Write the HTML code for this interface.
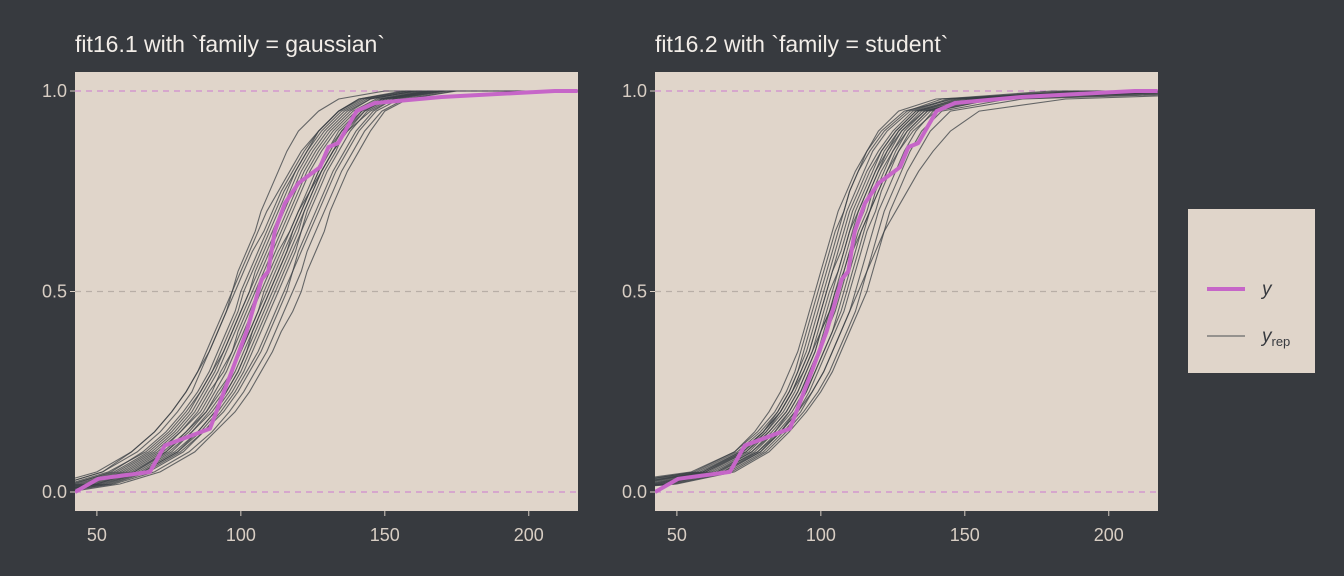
<!DOCTYPE html>
<html><head><meta charset="utf-8">
<style>
html,body{margin:0;padding:0;background:#373a3f;}
svg{display:block;font-family:"Liberation Sans",Arial,sans-serif;}
</style></head>
<body>
<svg id="chart" width="1344" height="576" viewBox="0 0 1344 576" xmlns="http://www.w3.org/2000/svg">
<rect x="0" y="0" width="1344" height="576" fill="#373a3f"/>
<defs>
<clipPath id="c1"><rect x="75" y="72" width="503" height="439"/></clipPath>
<clipPath id="c2"><rect x="655" y="72" width="503" height="439"/></clipPath>
</defs>
<g id="legend">
<rect x="1188" y="209" width="127" height="164" fill="#e0d5ca"/>
<line x1="1207" y1="289" x2="1245" y2="289" stroke="#c666c8" stroke-width="4"/>
<text x="1262" y="295" font-size="19" font-style="italic" fill="#373a3f">y</text>
<line x1="1207" y1="336" x2="1245" y2="336" stroke="#3a3f44" stroke-opacity="0.9" stroke-width="1"/>
<text x="1262" y="342" font-size="19" font-style="italic" fill="#373a3f">y<tspan font-size="13" font-style="normal" dy="4">rep</tspan></text>
</g>
</svg>
<script>
// quantile levels at which each replicate's x-values are recorded
const quantiles = [0,0.02,0.05,0.1,0.15,0.2,0.25,0.3,0.35,0.4,0.45,0.5,0.55,0.6,0.65,0.7,0.75,0.8,0.85,0.9,0.95,0.98,1];
// observed y ECDF points: values and cumulative proportions
const yValues = [42.4,50.5,68.4,73.6,89.3,96.8,102,107.2,109.5,111.8,115.3,120,127.5,130.4,133.8,140.2,146.6,169.7,209,217];
const yProps  = [0,0.033,0.05,0.116,0.158,0.30,0.40,0.53,0.55,0.65,0.72,0.77,0.81,0.86,0.87,0.95,0.97,0.985,1.0,1.0];
// replicate quantile values, gaussian model
const yrepGaussian = [
 [20,38,52,62,70,76,81,85,88,91,94,97,100,103,106,109,113,117,121,127,134,141,158],
 [25,45,60,72,79,85,89,94,97,100,103,106,109,112,115,118,121,124,128,133,140,148,165],
 [30,50,64,76,83,90,95,99,102,105,108,111,114,117,120,122,125,128,132,137,143,150,168],
 [35,55,68,80,87,94,99,103,107,110,113,116,118,121,124,127,130,133,137,141,147,155,172],
 [18,38,52,64,72,78,83,86,89,92,95,97,99,102,105,107,110,113,116,120,127,134,150],
 [28,48,62,74,81,88,92,97,100,103,106,109,112,115,118,121,124,127,131,135,142,149,166],
 [40,58,72,84,91,98,103,107,111,114,118,121,123,126,129,131,134,137,141,145,150,158,175],
 [22,44,58,70,78,84,88,92,95,98,101,104,107,110,113,116,119,122,126,131,138,145,160],
 [32,52,66,78,86,92,97,101,104,107,110,113,116,119,121,124,127,130,134,138,144,152,170],
 [15,35,50,62,70,76,81,85,89,92,95,98,101,104,108,111,114,118,122,127,134,142,158],
 [27,47,61,73,81,87,91,95,98,101,104,107,110,113,117,120,123,126,130,134,141,149,164],
 [38,56,70,82,90,96,101,105,109,112,115,118,121,123,126,129,132,135,139,143,149,157,174],
 [24,43,57,69,77,83,87,91,94,97,100,103,105,108,111,114,117,120,124,129,136,144,162],
 [33,51,65,77,85,91,96,100,103,106,109,112,115,118,121,123,126,129,133,136,142,150,169],
 [29,49,63,75,83,89,94,98,101,104,107,110,113,116,119,122,125,128,132,136,143,151,167],
 [21,41,56,68,76,82,86,90,93,96,99,101,104,107,110,113,116,119,123,127,134,141,156],
 [36,54,67,79,87,93,98,102,106,109,112,115,118,120,123,126,129,132,136,140,146,153,171],
 [26,46,59,71,79,86,90,93,97,99,102,105,108,111,114,117,120,123,127,132,139,147,163],
 [23,42,55,66,74,80,85,89,92,95,98,100,103,106,109,112,115,119,123,128,135,143,161],
 [31,53,66,78,85,91,95,99,102,104,107,110,113,116,118,121,124,127,130,135,141,149,166],
 [34,50,63,74,82,88,93,97,100,103,106,108,111,114,117,120,124,128,132,137,145,153,170],
 [19,40,54,67,75,81,86,90,94,97,100,103,106,109,112,115,118,121,125,130,137,145,160]
];
// replicate quantile values, student model
const yrepStudent = [
 [-10,30,58,72,80,86,90,93,96,98,100,102,104,106,108,110,113,116,120,125,132,145,190],
 [0,40,62,75,82,88,92,95,98,100,103,105,107,109,111,113,116,119,122,127,134,150,210],
 [5,45,66,78,85,91,95,98,101,104,106,108,110,112,114,117,119,122,125,129,136,155,230],
 [-20,25,55,70,78,84,88,91,93,95,97,99,101,103,105,108,110,113,117,122,130,142,180],
 [10,48,68,80,87,93,97,101,104,107,110,112,114,116,118,120,123,126,129,133,139,160,240],
 [-5,35,60,74,81,87,91,94,97,99,101,103,106,108,110,112,115,118,121,126,133,148,200],
 [15,50,70,82,89,95,100,104,107,110,113,116,118,120,122,124,127,130,134,138,145,170,260],
 [-15,28,57,71,79,85,89,92,95,97,99,101,103,105,107,109,112,115,118,123,131,144,185],
 [2,42,64,76,84,90,94,97,100,102,104,106,108,110,112,115,117,120,124,128,135,152,215],
 [8,46,67,79,86,92,96,99,102,105,108,110,112,114,116,119,121,124,127,131,138,158,225],
 [-8,33,59,73,81,86,90,93,96,98,100,102,104,107,109,111,114,117,121,126,133,147,195],
 [12,49,69,81,88,94,99,103,106,109,112,114,116,118,120,122,125,128,131,135,142,165,250],
 [-2,38,61,74,82,88,92,95,98,100,102,104,106,108,110,113,116,119,123,127,134,149,205],
 [4,44,65,77,84,89,93,96,99,101,103,105,108,110,112,114,117,120,123,128,136,153,220],
 [-12,30,56,70,77,82,86,89,92,94,96,98,100,102,104,106,109,112,116,121,129,146,190],
 [6,43,64,78,86,92,97,101,104,107,110,113,116,119,122,126,130,134,139,145,155,185,270],
 [-4,36,60,73,80,85,89,92,94,96,98,100,102,104,106,108,110,113,116,120,127,140,200],
 [9,47,66,79,86,91,95,98,101,104,107,109,111,113,115,117,120,123,126,130,137,156,235],
 [3,41,63,76,83,89,93,96,99,102,105,107,109,111,113,116,118,121,125,130,137,151,212],
 [-6,34,59,72,80,86,90,94,97,100,103,106,109,111,114,117,120,123,127,132,140,160,230]
];
const xTicks = [50,100,150,200];
const yTicks = [0,0.5,1.0];
const yTickLabels = ["0.0","0.5","1.0"];
const panelTitles = ["fit16.1 with `family = gaussian`","fit16.2 with `family = student`"];

const NS = "http://www.w3.org/2000/svg";
const svg = document.getElementById('chart');
const legend = document.getElementById('legend');
function mk(tag, attrs){ const e=document.createElementNS(NS,tag); for(const k in attrs) e.setAttribute(k,attrs[k]); return e; }

const panels = [{x0:75,reps:yrepGaussian,clip:'c1'},{x0:655,reps:yrepStudent,clip:'c2'}];
const PW=503, PT=72, PH=439, XMIN=42.4, XMAX=217.1;
const yScale = v => 492 - v*401;

panels.forEach((p,pi)=>{
  const xScale = v => p.x0 + (v-XMIN)/(XMAX-XMIN)*PW;
  const g = mk('g',{});
  
  
  svg.insertBefore(g, legend);
  const bg = mk('rect',{x:p.x0,y:PT,width:PW,height:PH,fill:'#e0d5ca'});
  
  
  g.appendChild(bg);
  yTicks.forEach((t,i)=>{
    const gl = mk('line',{x1:p.x0,x2:p.x0+PW,y1:yScale(t),y2:yScale(t),stroke:t===0.5?'#b8aea6':'#cf8ccf','stroke-width':1.2,'stroke-dasharray':'6,5'});
    
    
    g.appendChild(gl);
    const tk = mk('line',{x1:p.x0-5,x2:p.x0,y1:yScale(t),y2:yScale(t),stroke:'#d8cec4','stroke-width':1});
    
    
    g.appendChild(tk);
    const lb = mk('text',{x:p.x0-8,y:yScale(t)+6,'text-anchor':'end','font-size':18,fill:'#d8cec4'});
    lb.textContent = yTickLabels[i];
    
    
    g.appendChild(lb);
  });
  xTicks.forEach(t=>{
    const tk = mk('line',{x1:xScale(t),x2:xScale(t),y1:511,y2:516,stroke:'#d8cec4','stroke-width':1});
    
    
    g.appendChild(tk);
    const lb = mk('text',{x:xScale(t),y:541,'text-anchor':'middle','font-size':18,fill:'#d8cec4'});
    lb.textContent = t;
    
    
    g.appendChild(lb);
  });
  const title = mk('text',{x:p.x0,y:52,'font-size':23,fill:'#f2ede8'});
  title.textContent = panelTitles[pi];
  
  
  g.appendChild(title);
  const plot = mk('g',{'clip-path':'url(#'+p.clip+')'});
  g.appendChild(plot);
  p.reps.forEach(r=>{
    const pts = r.map((v,i)=>xScale(v).toFixed(1)+','+yScale(quantiles[i]).toFixed(1));
    pts.push(xScale(XMAX+5).toFixed(1)+','+yScale(1).toFixed(1));
    const pl = mk('polyline',{points:pts.join(' '),fill:'none',stroke:'#3a3f44','stroke-opacity':0.75,'stroke-width':1.1});
    
    
    plot.appendChild(pl);
  });
  const ypts = yValues.map((v,i)=>xScale(v).toFixed(1)+','+yScale(yProps[i]).toFixed(1)).join(' ');
  const yl = mk('polyline',{points:ypts,fill:'none',stroke:'#c666c8','stroke-width':4,'stroke-linejoin':'round'});
  
  
  plot.appendChild(yl);
});
</script>
</body></html>
